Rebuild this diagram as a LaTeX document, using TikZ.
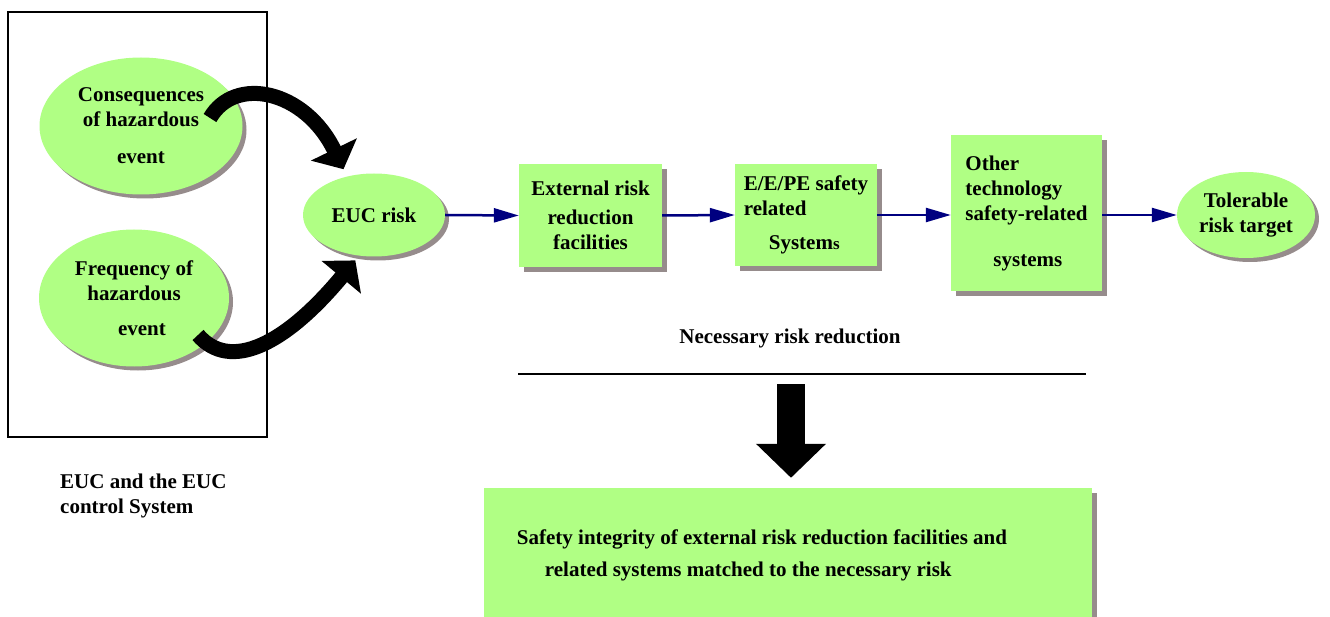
\documentclass[tikz,border=0pt]{standalone}
\usepackage{fontspec}
\setmainfont{Liberation Serif}
\usetikzlibrary{arrows.meta,positioning,shapes.geometric,shadows}
\definecolor{riskgreen}{HTML}{B0FF84}
\definecolor{shadegray}{HTML}{968C8C}
\definecolor{flowblue}{HTML}{000080}
\tikzset {
    riskell/.style={ellipse, fill=riskgreen, inner sep=0pt, align=center,
        font=\bfseries\fontsize{21}{25}\selectfont,
        copy shadow={shadow xshift=4pt, shadow yshift=-4pt, fill=shadegray, draw=none}},
    riskbox/.style={rectangle, fill=riskgreen, inner sep=0pt,
        font=\bfseries\fontsize{21}{25}\selectfont,
        copy shadow={shadow xshift=5pt, shadow yshift=-5pt, fill=shadegray, draw=none}},
    flow/.style={draw=flowblue, line width=2.5pt,
        -{Triangle[length=25pt,width=14pt]}},
    bigarrow/.style={draw=black, line width=15pt,
        -{Triangle[length=22pt,width=50pt]}},
    plainlabel/.style={font=\bfseries\fontsize{21}{25}\selectfont, inner sep=0pt}
}

\begin{document}
\begin{tikzpicture}[x=1pt, y=-1pt]
    \useasboundingbox (0,0) rectangle (1330,617);

    \node[draw, line width=1.8pt, minimum width=259pt, minimum height=425pt] at (137.5,224.5) (eucsys) {};
    \node[plainlabel, anchor=west, align=left] at (60,496) (eucsyslabel) {EUC and the EUC\\control System};

    \node[riskell, minimum width=203pt, minimum height=137pt] at (141,126) (cons)
        {Consequences\\of hazardous\\[12pt]event};
    \node[riskell, minimum width=190pt, minimum height=137pt] at (134,298) (freq)
        {Frequency of\\hazardous\\[10pt]\hspace*{16pt}event};
    \node[riskell, minimum width=142pt, minimum height=83pt] at (374,215) (euc) {EUC risk};

    \node[riskbox, minimum width=143pt, minimum height=103pt, align=center] at (590.5,215.5) (ext)
        {External risk\\[4pt]reduction\\facilities};
    \node[riskbox, minimum width=142pt, minimum height=102pt, align=left] at (806,215) (eepe)
        {E/E/PE safety\\related\\[9pt]\hspace*{25pt}System{\fontsize{17}{25}\selectfont s}};
    \node[riskbox, minimum width=151pt, minimum height=156pt, align=left] at (1026.5,213) (other)
        {Other\\technology\\safety-related\\[21pt]\hspace*{28pt}systems};
    \node[riskell, minimum width=138pt, minimum height=86pt] at (1246,215) (tol)
        {Tolerable\\risk target};

    \draw[flow] (euc.east) -- (ext.west);
    \draw[flow] (ext.east) -- (eepe.west);
    \draw[flow] (eepe.east) -- (eepe.east -| other.west);
    \draw[flow] (other.east |- tol.west) -- (tol.west);

    \coordinate (constail) at (210,118);
    \coordinate (freqtail) at (198,335);
    \draw[bigarrow, shorten >=8pt] (constail) .. controls (235,75) and (305,90) .. (euc.125);
    \draw[bigarrow, shorten >=6pt] (freqtail) .. controls (230,372) and (285,345) .. (euc.250);

    \node[plainlabel] at (790,338) (necessary) {Necessary risk reduction};
    \coordinate (lineL) at (518,374);
    \coordinate (lineR) at (1086,374);
    \draw[line width=2pt] (lineL) -- (lineR);

    \node[riskbox, minimum width=608pt, minimum height=134pt, align=left,
        font=\bfseries\fontsize{21}{32}\selectfont] at (788,555) (sil)
        {Safety integrity of external risk reduction facilities and\hspace*{52pt}\\
         \hspace*{28pt}related systems matched to the necessary risk};

    \coordinate (arrtop) at (791,384);
    \draw[line width=28pt, -{Triangle[length=34pt,width=68pt]}, shorten >=10pt]
        (arrtop) -- (arrtop |- sil.north);
\end{tikzpicture}
\end{document}
